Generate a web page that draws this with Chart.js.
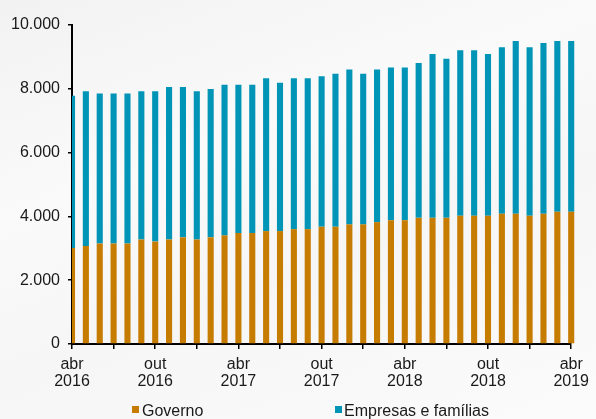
<!DOCTYPE html>
<html>
<head>
<meta charset="utf-8">
<script src="https://cdn.jsdelivr.net/npm/chart.js@4/dist/chart.umd.min.js"></script>
<style>
  html, body { margin: 0; padding: 0; }
  body { width: 596px; height: 419px; overflow: hidden; position: relative;
    background: linear-gradient(160deg, #f2f2f2 0%, #fafafa 35%, #f6f6f6 60%, #fbfbfb 100%);
    font-family: "Liberation Sans", Arial, sans-serif; }
  #wrap { position: absolute; left: 0; top: 0; width: 596px; height: 419px; }
  .lg { position: absolute; font-size: 16px; line-height: 16px; color: #1a1a1a; white-space: nowrap; }
  .sq { position: absolute; width: 7px; height: 7px; }
</style>
</head>
<body>
<div id="wrap"><canvas id="c" width="596" height="419"></canvas></div>
<div class="sq" style="left:132px;top:406px;background:#C67C00"></div>
<div class="lg" style="left:142px;top:403px">Governo</div>
<div class="sq" style="left:335px;top:406px;background:#0094B6"></div>
<div class="lg" style="left:344px;top:403px">Empresas e famílias</div>
<script>
const categories = [
  "abr 2016","mai 2016","jun 2016","jul 2016","ago 2016","set 2016","out 2016","nov 2016","dez 2016",
  "jan 2017","fev 2017","mar 2017","abr 2017","mai 2017","jun 2017","jul 2017","ago 2017","set 2017",
  "out 2017","nov 2017","dez 2017","jan 2018","fev 2018","mar 2018","abr 2018","mai 2018","jun 2018",
  "jul 2018","ago 2018","set 2018","out 2018","nov 2018","dez 2018","jan 2019","fev 2019","mar 2019","abr 2019"
];
const governo = [
  3010,3075,3150,3150,3150,3275,3210,3275,3345,3275,
  3345,3405,3480,3480,3540,3540,3600,3600,3675,3675,
  3750,3750,3820,3880,3880,3955,3955,3955,4020,4020,
  4020,4080,4080,4020,4080,4145,4145
];
const empresasFamilias = [
  4770,4850,4700,4700,4700,4650,4715,4785,4715,4650,
  4645,4720,4645,4645,4790,4650,4730,4730,4720,4795,
  4855,4720,4785,4790,4790,4850,5135,4985,5190,5190,
  5070,5220,5420,5280,5355,5355,5355
];
const yTicks = [0, 2000, 4000, 6000, 8000, 10000];

function fmt(v) { return String(v).replace(/\B(?=(\d{3})+(?!\d))/g, '.'); }

const font = { family: '"Liberation Sans", Arial, sans-serif', size: 16 };

new Chart(document.getElementById('c'), {
  type: 'bar',
  data: {
    labels: categories,
    datasets: [
      { label: 'Governo', data: governo, backgroundColor: '#C67C00',
        barPercentage: 0.44, categoryPercentage: 1, clip: {left: 0, right: false, top: false, bottom: false} },
      { label: 'Empresas e famílias', data: empresasFamilias, backgroundColor: '#0094B6',
        barPercentage: 0.44, categoryPercentage: 1, clip: {left: 0, right: false, top: false, bottom: false} }
    ]
  },
  options: {
    responsive: false,
    animation: false,
    layout: { padding: { left: 0, right: 22, top: 25, bottom: 29 } },
    plugins: { legend: { display: false }, tooltip: { enabled: false } },
    scales: {
      x: {
        stacked: true,
        offset: false,
        grid: {
          offset: false,
          drawOnChartArea: false,
          tickLength: 5,
          lineWidth: 1.5,
          color: (ctx) => (ctx.index % 3 === 0 ? '#000' : 'rgba(0,0,0,0)'),
          tickColor: (ctx) => (ctx.index % 3 === 0 ? '#000' : 'rgba(0,0,0,0)')
        },
        border: { display: true, color: '#000', width: 2 },
        ticks: {
          autoSkip: false,
          maxRotation: 0,
          minRotation: 0,
          padding: 7,
          color: '#1a1a1a',
          font: { ...font, lineHeight: 1.07 },
          callback: function (v, i) { return i % 6 === 0 ? categories[i].split(' ') : ''; }
        },
        afterFit: (s) => { s.height = 46; }
      },
      y: {
        stacked: true,
        min: 0,
        max: 10000,
        afterBuildTicks: (s) => { s.ticks = yTicks.map(v => ({ value: v })); },
        grid: { drawOnChartArea: false, tickLength: 4, color: '#000', lineWidth: 1.5 },
        border: { display: true, color: '#000', width: 2 },
        ticks: { padding: 8, color: '#1a1a1a', font: font, callback: (v) => fmt(v) },
        afterFit: (s) => { s.width = 72; }
      }
    }
  }
});
</script>
</body>
</html>
